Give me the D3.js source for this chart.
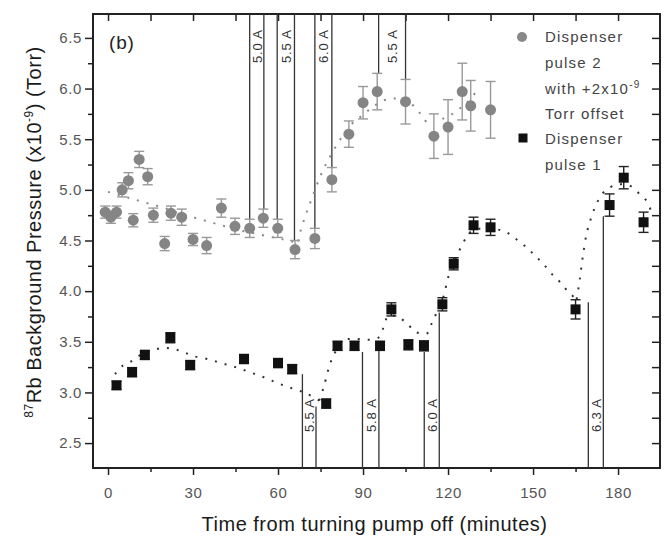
<!DOCTYPE html>
<html>
<head>
<meta charset="utf-8">
<script src="https://cdn.jsdelivr.net/npm/d3@7"></script>
<style>
  body { margin: 0; background: #fff; }
  svg text { font-family: "Liberation Sans", Arial, sans-serif; }
</style>
</head>
<body>
<div id="chart"></div>
<script>
// pulse 2 (grey circles, already offset by +2e-9 Torr)
let p2Time = [-1, 1, 3, 5, 7.2, 8.9, 11, 14, 16, 20, 22.2, 26, 30, 34.8, 40, 44.8, 50, 54.8, 59.9, 66, 73, 79, 85, 90, 95, 105, 115, 120, 125, 128, 135];
let p2Val  = [4.78, 4.73, 4.78, 5.00, 5.09, 4.70, 5.30, 5.13, 4.75, 4.47, 4.77, 4.73, 4.51, 4.45, 4.82, 4.64, 4.62, 4.72, 4.62, 4.41, 4.52, 5.10, 5.55, 5.86, 5.97, 5.87, 5.53, 5.62, 5.97, 5.83, 5.79];
let p2Err  = [0.06, 0.06, 0.06, 0.07, 0.08, 0.065, 0.08, 0.08, 0.07, 0.07, 0.07, 0.08, 0.06, 0.08, 0.09, 0.08, 0.09, 0.09, 0.09, 0.09, 0.1, 0.12, 0.13, 0.16, 0.18, 0.22, 0.22, 0.27, 0.28, 0.25, 0.28];

// pulse 1 (black squares)
let p1Time = [3, 8.5, 13, 22, 29, 48, 60, 65, 77, 81, 87, 96, 100, 106, 111.5, 118, 122, 129, 135, 165, 177, 182, 189];
let p1Val  = [3.07, 3.20, 3.37, 3.54, 3.27, 3.33, 3.29, 3.23, 2.89, 3.46, 3.46, 3.46, 3.82, 3.47, 3.46, 3.87, 4.27, 4.65, 4.63, 3.82, 4.85, 5.12, 4.68];
let p1Err  = [0.04, 0.045, 0.045, 0.05, 0.045, 0.045, 0.045, 0.045, 0.045, 0.045, 0.045, 0.045, 0.065, 0.05, 0.05, 0.065, 0.06, 0.08, 0.08, 0.095, 0.11, 0.11, 0.1];

// dotted guide curves
let fit2Time = [
  [0, 5, 10, 15, 20, 25, 30, 35, 40, 45, 50, 55, 60, 65, 66.5, 68, 70, 72, 75, 78, 82, 86, 90, 94, 98, 102, 106, 110, 113],
  [118, 121, 124, 127, 131]
];
let fit2Val = [
  [4.98, 4.94, 4.90, 4.86, 4.82, 4.77, 4.73, 4.69, 4.65, 4.61, 4.58, 4.55, 4.52, 4.49, 4.46, 4.60, 4.77, 4.92, 5.14, 5.31, 5.50, 5.65, 5.74, 5.83, 5.89, 5.90, 5.87, 5.76, 5.64],
  [5.70, 5.74, 5.80, 5.87, 6.01]
];
let fit1Time = [
  [2.5, 5, 9, 12.5, 16, 19.5, 23, 26.5, 30, 35, 40, 45, 50, 55, 60, 65, 70, 74.5],
  [74.5, 76, 77.8, 79.5, 83, 86, 91, 95.4, 97.2, 99, 102.5, 105.6, 108.4, 112.5, 114.2, 116, 118.3, 120.1, 121.6, 125.4, 127.8, 132, 137.2, 140.7, 144.2, 147.8, 150.7, 153.6, 156.6, 159.5, 162.5, 165.4],
  [165.4, 166.5, 167.5, 169, 170.7, 172.5, 175.4, 179.5, 184.2, 187.2, 190.1, 191.5]
];
let fit1Val = [
  [3.18, 3.26, 3.32, 3.39, 3.42, 3.44, 3.43, 3.40, 3.36, 3.33, 3.29, 3.25, 3.20, 3.15, 3.09, 3.04, 2.99, 2.92],
  [2.92, 3.04, 3.23, 3.36, 3.51, 3.53, 3.52, 3.54, 3.64, 3.76, 3.74, 3.68, 3.60, 3.58, 3.68, 3.79, 3.94, 4.14, 4.25, 4.48, 4.58, 4.62, 4.61, 4.58, 4.51, 4.43, 4.35, 4.27, 4.17, 4.09, 3.99, 3.92],
  [3.92, 4.12, 4.33, 4.58, 4.74, 4.87, 4.99, 5.05, 5.04, 4.97, 4.89, 4.80]
];

// dispenser on/off markers: pairs of lines with the current written between them
let p2LineTime = [50, 55, 59.7, 65.8, 73, 79, 95.5, 105];
let p2LineEnd  = [4.71, 4.81, 4.71, 4.50, 4.62, 5.22, 6.15, 6.09];
let p2Labels   = ["5.0 A", "5.5 A", "6.0 A", "5.5 A"];
let p1LineTime = [68.6, 73.4, 89.8, 95.6, 111.6, 116.9, 169.5, 174.8];
let p1LineEnd  = [3.18, 2.86, 3.40, 3.46, 3.40, 3.79, 3.89, 4.74];
let p1Labels   = ["5.5 A", "5.8 A", "6.0 A", "6.3 A"];

let xMajor = [0, 30, 60, 90, 120, 150, 180];
let xMinor = [15, 45, 75, 105, 135, 165];
let yMajor = [2.5, 3.0, 3.5, 4.0, 4.5, 5.0, 5.5, 6.0, 6.5];
let yMinor = [2.75, 3.25, 3.75, 4.25, 4.75, 5.25, 5.75, 6.25];

let width = 667, height = 538;
let padL = 93, padR = 660, padT = 14, padB = 468;

let svg = d3.select("#chart").append("svg")
    .attr("width", width)
    .attr("height", height);

let x = d3.scaleLinear().domain([-5.3, 194.8]).range([padL, padR]);
let y = d3.scaleLinear().domain([2.254, 6.736]).range([padB, padT]);

let styleAxis = (g) => {
  g.select(".domain").remove();
  g.selectAll(".tick line").attr("stroke", "#222").attr("stroke-width", 1.5);
  g.selectAll(".tick text").attr("fill", "#555").attr("font-size", 15).style("letter-spacing", "0.6px");
};

// axes
svg.append("g").attr("transform", `translate(0,${padB})`)
  .call(d3.axisBottom(x).tickValues(xMajor).tickSize(7).tickPadding(12).tickFormat(d3.format("d")))
  .call(styleAxis);
svg.append("g").attr("transform", `translate(0,${padB})`)
  .call(d3.axisBottom(x).tickValues(xMinor).tickSize(4).tickFormat(""))
  .call(styleAxis);
svg.append("g").attr("transform", `translate(0,${padT})`)
  .call(d3.axisTop(x).tickValues(xMajor.concat(xMinor)).tickSize(-7).tickFormat(""))
  .call(styleAxis);
svg.append("g").attr("transform", `translate(${padL},0)`)
  .call(d3.axisLeft(y).tickValues(yMajor).tickSize(8).tickPadding(3).tickFormat(d3.format(".1f")))
  .call(styleAxis);
svg.append("g").attr("transform", `translate(${padL},0)`)
  .call(d3.axisLeft(y).tickValues(yMinor).tickSize(5).tickFormat(""))
  .call(styleAxis);
svg.append("g").attr("transform", `translate(${padR},0)`)
  .call(d3.axisRight(y).tickValues(yMajor.concat(yMinor)).tickSize(-8).tickFormat(""))
  .call(styleAxis);

svg.append("rect")
  .attr("x", padL).attr("y", padT)
  .attr("width", padR - padL).attr("height", padB - padT)
  .attr("fill", "none").attr("stroke", "#222").attr("stroke-width", 2);

// pulse marker lines
let pulseG = svg.append("g");
p2LineTime.forEach((t, i) => {
  pulseG.append("line")
    .attr("x1", x(t)).attr("x2", x(t))
    .attr("y1", padT).attr("y2", y(p2LineEnd[i]))
    .attr("stroke", "#333").attr("stroke-width", 1.3);
});
p1LineTime.forEach((t, i) => {
  pulseG.append("line")
    .attr("x1", x(t)).attr("x2", x(t))
    .attr("y1", padB).attr("y2", y(p1LineEnd[i]))
    .attr("stroke", "#333").attr("stroke-width", 1.3);
});
p2Labels.forEach((lab, i) => {
  let cx = (x(p2LineTime[2 * i]) + x(p2LineTime[2 * i + 1])) / 2 + 5;
  pulseG.append("text")
    .attr("transform", `translate(${cx},63) rotate(-90)`)
    .attr("font-size", 13).attr("fill", "#333")
    .style("letter-spacing", "0.8px")
    .text(lab);
});
p1Labels.forEach((lab, i) => {
  let cx = (x(p1LineTime[2 * i]) + x(p1LineTime[2 * i + 1])) / 2 + 5;
  pulseG.append("text")
    .attr("transform", `translate(${cx},432) rotate(-90)`)
    .attr("font-size", 13).attr("fill", "#333")
    .style("letter-spacing", "0.8px")
    .text(lab);
});

// dotted guide curves
let fitLine = d3.line().x(d => x(d[0])).y(d => y(d[1])).curve(d3.curveCatmullRom);
fit2Time.forEach((ts, k) => {
  svg.append("path")
    .datum(ts.map((t, i) => [t, fit2Val[k][i]]))
    .attr("d", fitLine)
    .attr("fill", "none").attr("stroke", "#888")
    .attr("stroke-width", 2).attr("stroke-dasharray", "2,8");
});
fit1Time.forEach((ts, k) => {
  svg.append("path")
    .datum(ts.map((t, i) => [t, fit1Val[k][i]]))
    .attr("d", fitLine)
    .attr("fill", "none").attr("stroke", "#333")
    .attr("stroke-width", 2).attr("stroke-dasharray", "2,8");
});

// error bars + markers
let drawErr = (ts, vs, es, color) => {
  let g = svg.append("g").attr("stroke", color).attr("stroke-width", 1.4);
  ts.forEach((t, i) => {
    let px = x(t), y0 = y(vs[i] - es[i]), y1 = y(vs[i] + es[i]);
    g.append("line").attr("x1", px).attr("x2", px).attr("y1", y0).attr("y2", y1);
    g.append("line").attr("x1", px - 5).attr("x2", px + 5).attr("y1", y0).attr("y2", y0);
    g.append("line").attr("x1", px - 5).attr("x2", px + 5).attr("y1", y1).attr("y2", y1);
  });
};
drawErr(p2Time, p2Val, p2Err, "#999");
drawErr(p1Time, p1Val, p1Err, "#222");

svg.append("g").selectAll("circle")
  .data(p2Time)
  .enter()
  .append("circle")
  .attr("cx", (t) => x(t))
  .attr("cy", (t, i) => y(p2Val[i]))
  .attr("r", 5.5)
  .attr("fill", "#858585");

svg.append("g").selectAll("rect")
  .data(p1Time)
  .enter()
  .append("rect")
  .attr("x", (t) => x(t) - 5)
  .attr("y", (t, i) => y(p1Val[i]) - 5)
  .attr("width", 10).attr("height", 10)
  .attr("fill", "#111");

// panel label
svg.append("text").attr("x", 109).attr("y", 49)
  .attr("font-size", 19).attr("fill", "#222")
  .style("letter-spacing", "0.8px").text("(b)");

// legend
let legend = svg.append("g").attr("fill", "#444").attr("font-size", 15).style("letter-spacing", "1.2px");
legend.append("circle").attr("cx", 522).attr("cy", 37).attr("r", 5).attr("fill", "#888");
legend.append("text").attr("x", 545).attr("y", 42).text("Dispenser");
legend.append("text").attr("x", 545).attr("y", 68).text("pulse 2");
let offT = legend.append("text").attr("x", 545).attr("y", 94).text("with +2x10");
offT.append("tspan").attr("dy", -6).attr("font-size", 10).text("-9");
legend.append("text").attr("x", 545).attr("y", 119).text("Torr offset");
legend.append("rect").attr("x", 518.5).attr("y", 133.5).attr("width", 9).attr("height", 9).attr("fill", "#111");
legend.append("text").attr("x", 545).attr("y", 144).text("Dispenser");
legend.append("text").attr("x", 545).attr("y", 170).text("pulse 1");

// axis titles
svg.append("text")
  .attr("x", (padL + padR) / 2 - 2).attr("y", 531)
  .attr("text-anchor", "middle")
  .attr("font-size", 20).attr("fill", "#1a1a1a")
  .style("letter-spacing", "0.5px")
  .text("Time from turning pump off (minutes)");

let yTitle = svg.append("text")
  .attr("transform", "translate(41,232) rotate(-90)")
  .attr("text-anchor", "middle")
  .attr("font-size", 20).attr("fill", "#1a1a1a")
  .style("letter-spacing", "0.5px");
yTitle.append("tspan").attr("font-size", 12).attr("dy", -8).text("87");
yTitle.append("tspan").attr("dy", 8).text("Rb Background Pressure (x10");
yTitle.append("tspan").attr("font-size", 12).attr("dy", -8).text("-9");
yTitle.append("tspan").attr("dy", 8).text(") (Torr)");
</script>
</body>
</html>
